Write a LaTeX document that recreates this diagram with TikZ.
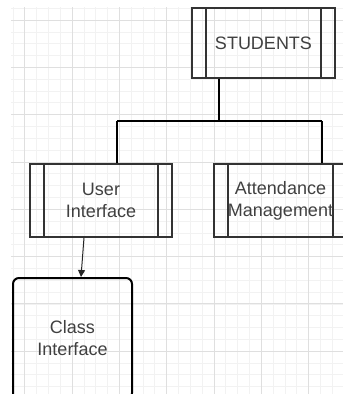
\documentclass[tikz,border=0pt]{standalone}
\usepackage{fontspec}
\setmainfont{Liberation Sans}
\usetikzlibrary{arrows.meta,positioning}

\begin{document}
\begin{tikzpicture}[x=1pt, y=-1pt, thick]

\tikzstyle{every node}=[font=\fontsize{18}{22}\selectfont, text=black!75, align=center]
\tikzstyle{proc}=[draw=black!80, line width=1.2pt, rectangle, inner sep=0pt,
  path picture={
    \draw[black!80, line width=1.2pt]
      ([xshift=14pt]path picture bounding box.north west) -- ([xshift=14pt]path picture bounding box.south west)
      ([xshift=-14pt]path picture bounding box.north east) -- ([xshift=-14pt]path picture bounding box.south east);
  }]
\tikzstyle{tree}=[line width=2pt, black]

\useasboundingbox (0,0) rectangle (343,394);
\clip (0,0) rectangle (343,394);

% grid
\foreach \i in {-5,...,23}
  \draw[gray!10, line width=0.6pt] (72+\i*11.825,7) -- (72+\i*11.825,394);
\foreach \i in {-1,...,31}
  \draw[gray!10, line width=0.6pt] (11,20+\i*11.825) -- (343,20+\i*11.825);
\foreach \i in {-1,...,5}
  \draw[gray!25, line width=0.8pt] (72+\i*47.3,7) -- (72+\i*47.3,394);
\foreach \i in {0,...,7}
  \draw[gray!25, line width=0.8pt] (11,20+\i*47.3) -- (343,20+\i*47.3);

\node[proc, minimum width=143pt, minimum height=70pt] (st) at (263.5,43) {STUDENTS};
\node[proc, minimum width=142pt, minimum height=73pt] (ui) at (101,200.5) {User\\Interface};
\node[proc, minimum width=133pt, minimum height=73pt] (am) at (280.5,200.5) {Attendance\\Management};
\node[draw=black, line width=2pt, rounded corners=6pt, minimum width=119pt, minimum height=121pt] (ci) at (72.5,338.5) {Class\\Interface};

\coordinate (split) at (219,121);
\coordinate (uidrop) at (117,121);
\coordinate (amdrop) at (322,121);

\draw[tree] (st.south -| split) -- (split);
\draw[tree] (uidrop) -- (amdrop);
\draw[tree] (uidrop) -- (uidrop |- ui.north);
\draw[tree] (amdrop) -- (amdrop |- am.north);

\draw[black!85, line width=1pt, -{Triangle[length=7pt, width=7pt]}] ([xshift=-17pt]ui.south) -- ([xshift=8.5pt]ci.north);

\end{tikzpicture}
\end{document}
